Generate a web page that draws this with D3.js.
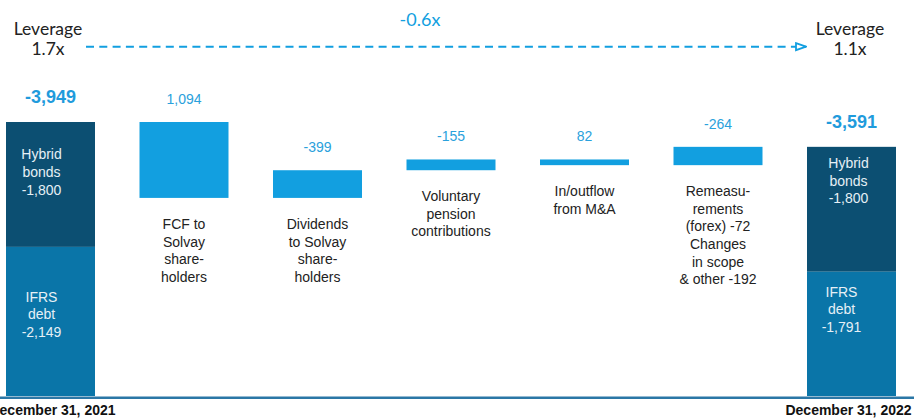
<!DOCTYPE html>
<html>
<head>
<meta charset="utf-8">
<script src="https://cdn.jsdelivr.net/npm/d3@7"></script>
<style>
  html, body { margin: 0; padding: 0; background: #ffffff; }
  svg { display: block; }
</style>
</head>
<body>
<div id="chart"></div>
<script>
// Net debt bridge, 2021 -> 2022 (EUR m)
const categories = ["open", "fcf", "div", "pension", "ma", "remeas", "close"];
const categoryLabels = [
  [],
  ["FCF to", "Solvay", "share-", "holders"],
  ["Dividends", "to Solvay", "share-", "holders"],
  ["Voluntary", "pension", "contributions"],
  ["In/outflow", "from M&A"],
  ["Remeasu-", "rements", "(forex) -72", "Changes", "in scope", "& other -192"],
  []
];
const stepValues = [1094, -399, -155, 82, -264];
const openingHybrid = -1800;
const openingIFRS = -2149;
const closingHybrid = -1800;
const closingIFRS = -1791;
const dateLabels = ["December 31, 2021", "December 31, 2022"];
const leverageTitle = "Leverage";
const leverageStart = "1.7x";
const leverageEnd = "1.1x";
const leverageChange = "-0.6x";

const W = 914, H = 418;
const C = {
  hybrid: "#0c4f72",
  ifrs: "#0a75a8",
  step: "#129fe0",
  value: "#2aa1dc",
  total: "#1f9bdc",
  axis: "#2b77a6",
  text: "#222222",
  inner: "#e6f0f6"
};

const svg = d3.select("#chart").append("svg")
  .attr("width", W).attr("height", H);

// Thousands separator with a plain hyphen for negatives
const fmt = d3.formatLocale({ decimal: ".", thousands: ",", grouping: [3], currency: ["", ""], minus: "-" }).format(",");
const openingTotal = openingHybrid + openingIFRS;   // -3,949
const closingTotal = closingHybrid + closingIFRS;   // -3,591

// Magnitude of net debt mapped to vertical position
const y = d3.scaleLinear()
  .domain([0, -openingTotal])
  .range([396, 122]);

const x = d3.scaleBand()
  .domain(categories)
  .range([6, 896])
  .paddingInner(1 / 3)
  .paddingOuter(0);

const bw = x.bandwidth();

// Running debt level for the floating steps
let level = -openingTotal;
const steps = stepValues.map((v, i) => {
  const from = level;
  const to = level - v;
  level = to;
  return { key: categories[i + 1], value: v, from, to, lines: categoryLabels[i + 1] };
});

// Stacked totals: hybrid on top, IFRS debt below
const totals = [
  { key: "open", hybrid: -openingHybrid, ifrs: -openingIFRS, total: openingTotal, dx1: -9, off1: 37, dx2: -9, off2: 55 },
  { key: "close", hybrid: -closingHybrid, ifrs: -closingIFRS, total: closingTotal, dx1: -3, off1: 21, dx2: -10, off2: 25 }
];

const gTot = svg.append("g");
totals.forEach(t => {
  const x0 = x(t.key);
  const yTop = y(t.hybrid + t.ifrs);
  const yMid = y(t.ifrs);
  gTot.append("rect")
    .attr("x", x0).attr("y", yTop)
    .attr("width", bw).attr("height", yMid - yTop)
    .attr("fill", C.hybrid);
  gTot.append("rect")
    .attr("x", x0).attr("y", yMid)
    .attr("width", bw).attr("height", y(0) - yMid)
    .attr("fill", C.ifrs);

  const cx = x0 + bw / 2;
  const seg1 = ["Hybrid", "bonds", fmt(-t.hybrid)];
  const seg2 = ["IFRS", "debt", fmt(-t.ifrs)];
  const t1 = gTot.append("text")
    .attr("text-anchor", "middle")
    .attr("font-family", "Liberation Sans, Arial, sans-serif")
    .attr("font-size", 14).attr("fill", C.inner);
  seg1.forEach((s, i) => t1.append("tspan")
    .attr("x", cx + t.dx1).attr("y", yTop + t.off1 + i * 17.8).text(s));
  const t2 = gTot.append("text")
    .attr("text-anchor", "middle")
    .attr("font-family", "Liberation Sans, Arial, sans-serif")
    .attr("font-size", 14).attr("fill", C.inner);
  seg2.forEach((s, i) => t2.append("tspan")
    .attr("x", cx + t.dx2).attr("y", yMid + t.off2 + i * 17.6).text(s));

  gTot.append("text")
    .attr("x", cx).attr("y", yTop - 19)
    .attr("text-anchor", "middle")
    .attr("font-family", "Liberation Sans, Arial, sans-serif")
    .attr("font-size", 18).attr("font-weight", "bold")
    .attr("fill", C.total)
    .text(fmt(t.total));
});

// Floating steps
const gStep = svg.append("g");
steps.forEach(s => {
  const top = y(Math.max(s.from, s.to));
  const bot = y(Math.min(s.from, s.to));
  const x0 = x(s.key);
  const cx = x0 + bw / 2;
  gStep.append("rect")
    .attr("x", x0).attr("y", top)
    .attr("width", bw).attr("height", bot - top)
    .attr("fill", C.step);
  gStep.append("text")
    .attr("x", cx).attr("y", top - 18)
    .attr("text-anchor", "middle")
    .attr("font-family", "Liberation Sans, Arial, sans-serif")
    .attr("font-size", 14)
    .attr("fill", C.value)
    .text(fmt(s.value));
  const lbl = gStep.append("text")
    .attr("text-anchor", "middle")
    .attr("font-family", "Liberation Sans, Arial, sans-serif")
    .attr("font-size", 14)
    .attr("fill", C.text);
  s.lines.forEach((line, i) => lbl.append("tspan")
    .attr("x", cx).attr("y", bot + 31 + i * 17.6).text(line));
});

// Baseline
svg.append("line")
  .attr("x1", 0).attr("x2", W)
  .attr("y1", 397.8).attr("y2", 397.8)
  .attr("stroke", C.axis).attr("stroke-width", 2.5);

// Date labels under the totals
[{ key: "open", dx: 2, text: dateLabels[0] }, { key: "close", dx: -3, text: dateLabels[1] }]
  .forEach(d => {
    svg.append("text")
      .attr("x", x(d.key) + bw / 2 + d.dx).attr("y", 415)
      .attr("text-anchor", "middle")
      .attr("font-family", "Liberation Sans, Arial, sans-serif")
      .attr("font-size", 14).attr("font-weight", "bold")
      .attr("fill", "#111")
      .text(d.text);
  });

// Leverage annotation
const levFont = "Lato, 'Open Sans', sans-serif";
[{ cx: 48, v: leverageStart }, { cx: 850, v: leverageEnd }].forEach(l => {
  svg.append("text")
    .attr("x", l.cx).attr("y", 34.5)
    .attr("text-anchor", "middle")
    .attr("font-family", levFont).attr("font-size", 17.5)
    .attr("fill", C.text).text(leverageTitle);
  svg.append("text")
    .attr("x", l.cx).attr("y", 54.5)
    .attr("text-anchor", "middle")
    .attr("font-family", levFont).attr("font-size", 17.5)
    .attr("fill", C.text).text(l.v);
});

svg.append("defs").append("marker")
  .attr("id", "arrowHead")
  .attr("viewBox", "0 0 12 10")
  .attr("refX", 11).attr("refY", 5)
  .attr("markerWidth", 12).attr("markerHeight", 10)
  .attr("markerUnits", "userSpaceOnUse")
  .attr("orient", "auto")
  .append("path")
  .attr("d", "M1,1.5 L11,5 L1,8.5 Z")
  .attr("fill", "#fff")
  .attr("stroke", C.step).attr("stroke-width", 1.8);

svg.append("line")
  .attr("x1", 86).attr("x2", 806)
  .attr("y1", 46.7).attr("y2", 46.7)
  .attr("stroke", C.step).attr("stroke-width", 2)
  .attr("stroke-dasharray", "8,5.3")
  .attr("marker-end", "url(#arrowHead)");

svg.append("text")
  .attr("x", 420).attr("y", 26)
  .attr("text-anchor", "middle")
  .attr("font-family", levFont).attr("font-size", 18)
  .attr("fill", C.step).text(leverageChange);
</script>
</body>
</html>
